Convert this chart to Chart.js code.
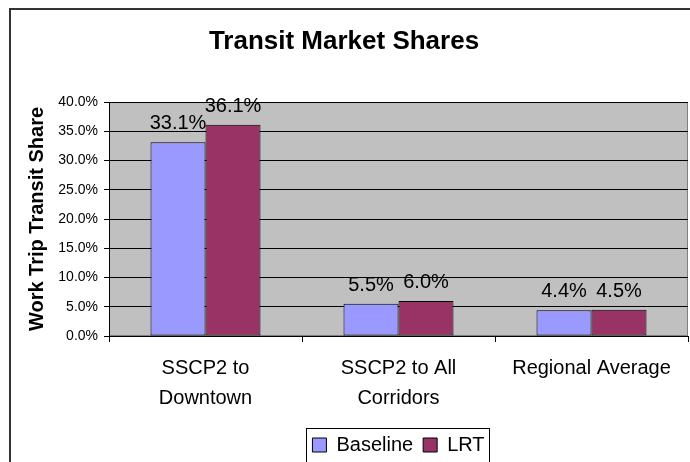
<!DOCTYPE html>
<html><head><meta charset="utf-8">
<script src="https://cdn.jsdelivr.net/npm/chart.js@4"></script>
<style>
html,body{margin:0;padding:0;overflow:hidden;background:#fff;}
canvas{display:block;}
</style></head><body>
<canvas id="c" width="706" height="462"></canvas>
<script>
const categories = [["SSCP2 to","Downtown"],["SSCP2 to All","Corridors"],"Regional Average"];
const baselineValues = [33.1, 5.5, 4.4];
const lrtValues = [36.1, 6.0, 4.5];
const seriesNames = ["Baseline","LRT"];
const yTickMin = 0, yTickMax = 40, yTickStep = 5;
const chartTitle = "Transit Market Shares";
const yAxisTitle = "Work Trip Transit Share";

const FONT = "'Liberation Sans', Arial, sans-serif";

const plotBg = {
  id:'plotBg',
  beforeDraw(chart){
    const {ctx, chartArea:a} = chart;
    ctx.save();
    ctx.strokeStyle='#333'; ctx.lineWidth=2;
    ctx.strokeRect(10,9,chart.width+20,chart.height+20);
    ctx.fillStyle='#C0C0C0';
    ctx.fillRect(a.left,a.top,a.right-a.left,a.bottom-a.top);
    ctx.strokeStyle='#808080'; ctx.lineWidth=1;
    ctx.strokeRect(Math.round(a.left)+0.5,Math.round(a.top)+0.5,Math.round(a.right-a.left)-1,Math.round(a.bottom-a.top)-1);
    ctx.restore();
  }
};

const dataLabels = {
  id:'dataLabels',
  afterDatasetsDraw(chart){
    const ctx = chart.ctx; ctx.save();
    ctx.font = '20px ' + FONT; ctx.fillStyle = '#000';
    ctx.textAlign = 'center'; ctx.textBaseline = 'alphabetic';
    chart.data.datasets.forEach((ds,i)=>{
      const meta = chart.getDatasetMeta(i);
      meta.data.forEach((bar,j)=>{
        ctx.fillText(ds.data[j].toFixed(1)+'%', bar.x, bar.y-13);
      });
    });
    ctx.restore();
  }
};

const legendBox = {
  id:'legendBox',
  afterDraw(chart){
    const lg = chart.legend;
    if(!lg || !lg.legendHitBoxes || !lg.legendHitBoxes.length) return;
    let l=Infinity,r=-Infinity,t=Infinity,b=-Infinity;
    lg.legendHitBoxes.forEach(h=>{
      l=Math.min(l,h.left); r=Math.max(r,h.left+h.width);
      t=Math.min(t,h.top); b=Math.max(b,h.top+h.height);
    });
    const ctx = chart.ctx; ctx.save();
    ctx.strokeStyle='#000'; ctx.lineWidth=1;
    ctx.strokeRect(Math.round(l-6)+0.5, Math.round(t-7)+0.5, Math.round(r-l+11), Math.round(b-t+14));
    ctx.restore();
  }
};

new Chart(document.getElementById('c'), {
  type:'bar',
  data:{
    labels:categories,
    datasets:[
      {label:seriesNames[0], data:baselineValues, backgroundColor:'#9999FF', borderColor:'#000', borderWidth:1, borderSkipped:false},
      {label:seriesNames[1], data:lrtValues, backgroundColor:'#993366', borderColor:'#000', borderWidth:1, borderSkipped:false}
    ]
  },
  options:{
    responsive:false, animation:false, devicePixelRatio:1,
    datasets:{bar:{categoryPercentage:0.57, barPercentage:1}},
    layout:{padding:{left:0,right:18,top:0,bottom:-3}},
    plugins:{
      title:{display:true, text:chartTitle, color:'#000', font:{family:FONT,size:26,weight:'bold'}, padding:{top:26.4,bottom:44.4}},
      legend:{position:'bottom', fullSize:false, labels:{color:'#000', font:{family:FONT,size:20}, boxWidth:14, boxHeight:14, padding:10}},
      tooltip:{enabled:false}
    },
    scales:{
      x:{
        grid:{display:true, drawOnChartArea:false, drawTicks:true, tickLength:6, color:'#000', offset:true},
        border:{display:true, color:'#000'},
        ticks:{color:'#000', font:{family:FONT,size:20,lineHeight:1.5}, padding:11, maxRotation:0, autoSkip:false},
        afterFit(s){ s.height = 89; }
      },
      y:{
        min:yTickMin, max:yTickMax,
        ticks:{stepSize:yTickStep, color:'#000', font:{family:FONT,size:14}, padding:6, callback:v=>Number(v).toFixed(1)+'%'},
        grid:{color:'#000', tickLength:5, drawTicks:true},
        border:{color:'#000'},
        title:{display:true, text:yAxisTitle, color:'#000', font:{family:FONT,size:20,weight:'bold'}, padding:{top:25,bottom:0}},
        afterFit(s){ s.width = 109; }
      }
    }
  },
  plugins:[plotBg,dataLabels,legendBox]
});
</script>
</body></html>
